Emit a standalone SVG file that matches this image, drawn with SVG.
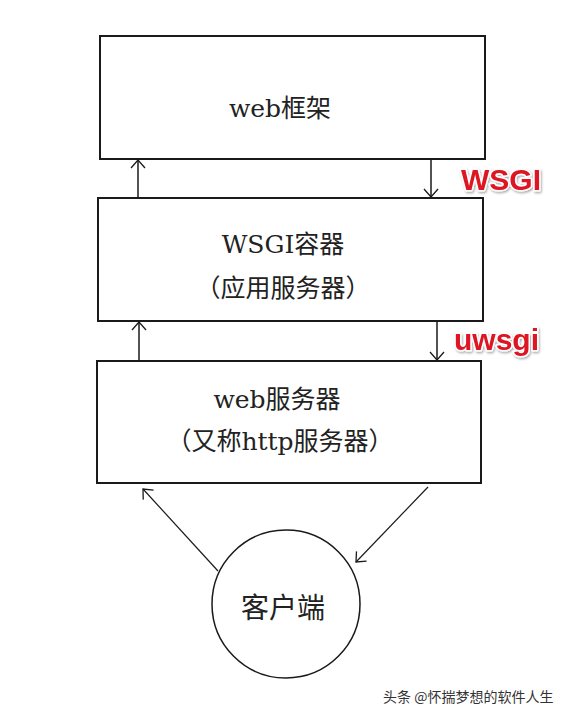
<svg xmlns="http://www.w3.org/2000/svg" width="576" height="719" viewBox="0 0 576 719">
<defs>
<style>
.box{fill:#fff;stroke:#1a1a1a;stroke-width:2}
.t{font-family:"DejaVu Serif","Noto Sans CJK SC",serif;font-size:25px;fill:#222;text-anchor:middle}
.c{stroke:#1a1a1a;stroke-width:1.5;fill:none}
.d{stroke:#1a1a1a;stroke-width:1.2;fill:none}
.red{font-family:"Liberation Sans",Arial,sans-serif;font-weight:bold;font-size:30px;fill:#dc1420;stroke:#fff;stroke-width:3;paint-order:stroke;stroke-linejoin:round}
.wm{font-family:"Noto Sans CJK SC",sans-serif;font-size:14px;fill:#333}
</style>
<marker id="ah" viewBox="0 0 20 20" refX="10" refY="10" markerWidth="20" markerHeight="20" markerUnits="userSpaceOnUse" orient="auto">
<path d="M2,3 L10,10 L2,17" fill="none" stroke="#1a1a1a" stroke-width="1.3"/>
</marker>
<filter id="sh" x="-20%" y="-20%" width="140%" height="160%">
<feDropShadow dx="1" dy="1.5" stdDeviation="1.2" flood-color="#000" flood-opacity="0.35"/>
</filter>
</defs>
<rect width="576" height="719" fill="#fff"/>
<g id="connectors">
<line class="c" x1="138" y1="198" x2="138" y2="160" marker-end="url(#ah)"/>
<line class="c" x1="431" y1="159" x2="431" y2="197" marker-end="url(#ah)"/>
<line class="c" x1="139" y1="361" x2="139" y2="322" marker-end="url(#ah)"/>
<line class="c" x1="437" y1="321" x2="437" y2="360" marker-end="url(#ah)"/>
<line class="d" x1="218" y1="571" x2="143" y2="489" marker-end="url(#ah)"/>
<line class="d" x1="428" y1="487" x2="356" y2="562" marker-end="url(#ah)"/>
</g>
<g id="web-framework">
<rect class="box" x="100" y="36" width="385" height="123"/>
<text class="t" x="280" y="117">web框架</text>
</g>
<g id="wsgi-container">
<rect class="box" x="98" y="198" width="385" height="123"/>
<text class="t" x="283" y="253">WSGI容器</text>
<text class="t" x="283" y="297">（应用服务器）</text>
</g>
<g id="web-server">
<rect class="box" x="97" y="361" width="384" height="122"/>
<text class="t" x="277" y="408">web服务器</text>
<text class="t" x="280" y="450">（又称http服务器）</text>
</g>
<g id="client">
<circle cx="286" cy="604" r="74" fill="#fff" stroke="#1a1a1a" stroke-width="1.5"/>
<text class="t" x="283" y="618" style="font-family:'Noto Sans CJK SC',sans-serif;font-size:28px">客户端</text>
</g>
<g id="labels" filter="url(#sh)">
<text class="red" x="461" y="190">WSGI</text>
<text class="red" x="454" y="350">uwsgi</text>
</g>
<text class="wm" x="383" y="702">头条 @怀揣梦想的软件人生</text>
</svg>
